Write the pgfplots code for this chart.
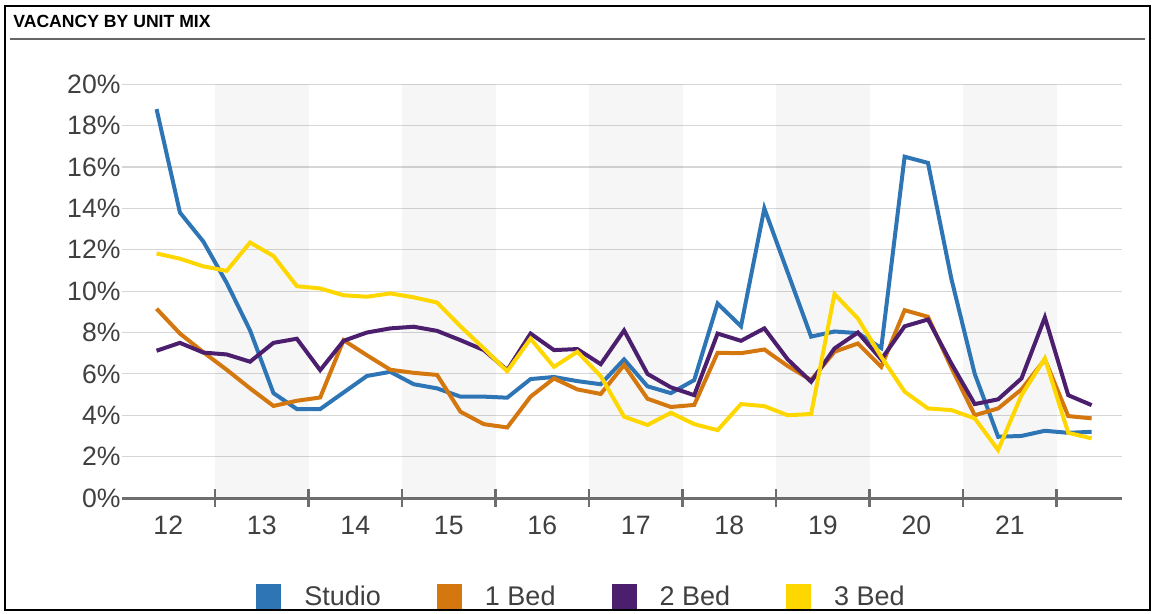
\documentclass[border=0pt]{standalone}
\usepackage{pgfplots}
\pgfplotsset{compat=1.18}
\usepackage{pgfplotstable}
\usepackage{fontspec}
\setmainfont{Liberation Sans}
\definecolor{studio}{HTML}{2E75B6}
\definecolor{onebed}{HTML}{D4770F}
\definecolor{twobed}{HTML}{4B1E6E}
\definecolor{threebed}{HTML}{FFD700}
\definecolor{axisgray}{HTML}{6E6E6E}
\definecolor{labelgray}{HTML}{404040}

\pgfplotstableread{
x      s     b1    b2    b3
12.375 18.8  9.15  7.12  11.82
12.625 13.8  7.95  7.5   11.57
12.875 12.4  7.05  7.03  11.2
13.125 10.4  6.2   6.94  10.98
13.375 8.1   5.3   6.59  12.35
13.625 5.07  4.45  7.5   11.7
13.875 4.3   4.7   7.7   10.24
14.125 4.3   4.86  6.18  10.13
14.375 5.1   7.63  7.6   9.8
14.625 5.9   6.9   8.0   9.73
14.875 6.1   6.2   8.2   9.89
15.125 5.5   6.05  8.28  9.7
15.375 5.3   5.95  8.08  9.45
15.625 4.9   4.17  7.63  8.3
15.875 4.9   3.57  7.15  7.23
16.125 4.85  3.41  6.18  6.13
16.375 5.75  4.9   7.95  7.7
16.625 5.85  5.78  7.15  6.34
16.875 5.65  5.25  7.2   7.07
17.125 5.5   5.03  6.47  5.89
17.375 6.7   6.43  8.1   3.93
17.625 5.4   4.8   6.0   3.53
17.875 5.07  4.4   5.35  4.12
18.125 5.7   4.5   4.97  3.57
18.375 9.4   7.02  7.95  3.28
18.625 8.3   7.0   7.6   4.54
18.875 14.0  7.18  8.2   4.44
19.125 10.9  6.38  6.7   4.0
19.375 7.8   5.7   5.62  4.06
19.625 8.05  7.07  7.23  9.86
19.875 7.97  7.47  8.0   8.68
20.125 7.25  6.34  6.7   6.83
20.375 16.5  9.08  8.3   5.14
20.625 16.2  8.76  8.63  4.33
20.875 10.6  6.3   6.5   4.25
21.125 6.0   4.0   4.54  3.85
21.375 2.96  4.33  4.77  2.32
21.625 3.0   5.25  5.78  4.97
21.875 3.25  6.7   8.73  6.75
22.125 3.15  3.96  4.97  3.15
22.375 3.2   3.85  4.49  2.88
}\vacancy

\begin{document}
\begin{tikzpicture}
\draw[line width=1.2bp] (2.5bp,2bp) rectangle (575bp,304bp);
\node[anchor=base west, font=\bfseries\fontsize{8.8bp}{10bp}\selectfont, inner sep=0pt] at (6.5bp,293bp) {VACANCY BY UNIT MIX};
\draw[color=black!60, line width=0.9bp] (5bp,287.5bp) -- (572.5bp,287.5bp);
\begin{axis}[
  at={(60.75bp,58bp)}, anchor=south west,
  scale only axis, width=500.25bp, height=206.85bp,
  xmin=12, xmax=22.7, ymin=0, ymax=20,
  axis x line*=bottom, axis y line*=left,
  y axis line style={draw=none},
  x axis line style={color=axisgray, line width=1.5bp},
  ytick={0,2,...,20},
  yticklabel={\pgfmathprintnumber{\tick}\%},
  ytick style={draw=none},
  xtick={13,...,22},
  xticklabels={},
  extra x ticks={12.5,13.5,14.5,15.5,16.5,17.5,18.5,19.5,20.5,21.5},
  extra x tick labels={12,13,14,15,16,17,18,19,20,21},
  extra x tick style={major tick length=0pt, grid=none},
  xtick style={color=axisgray, line width=1.3bp},
  tick align=center, major tick length=9bp,
  ymajorgrids, grid style={color=black!16, line width=0.6bp},
  tick label style={font=\fontsize{13.3bp}{15bp}\selectfont, text=labelgray},
  /pgf/number format/assume math mode=true,
  yticklabel style={xshift=7.5bp},
  xticklabel style={yshift=-5.5bp},
  legend style={at={(0.4608,-0.239)}, anchor=center, draw=none, fill=none,
    font=\fontsize{13.5bp}{15bp}\selectfont, text=labelgray,
    legend columns=4,
    /tikz/every even column/.append style={column sep=26bp}},
  legend image code/.code={\fill (0bp,-5.25bp) rectangle (10.5bp,5.25bp); \path (20bp,0bp);},
  every axis plot/.append style={line width=2bp, mark=none},
]
\fill[black, fill opacity=0.035] (axis cs:13,0) rectangle (axis cs:14,20);
\fill[black, fill opacity=0.035] (axis cs:15,0) rectangle (axis cs:16,20);
\fill[black, fill opacity=0.035] (axis cs:17,0) rectangle (axis cs:18,20);
\fill[black, fill opacity=0.035] (axis cs:19,0) rectangle (axis cs:20,20);
\fill[black, fill opacity=0.035] (axis cs:21,0) rectangle (axis cs:22,20);
\addplot[color=studio] table[x=x, y=s] {\vacancy};
\addlegendentry{Studio}
\addplot[color=onebed] table[x=x, y=b1] {\vacancy};
\addlegendentry{1 Bed}
\addplot[color=twobed] table[x=x, y=b2] {\vacancy};
\addlegendentry{2 Bed}
\addplot[color=threebed] table[x=x, y=b3] {\vacancy};
\addlegendentry{3 Bed}
\end{axis}
\pgfresetboundingbox
\useasboundingbox (0,0) rectangle (577bp,307bp);
\end{tikzpicture}
\end{document}
